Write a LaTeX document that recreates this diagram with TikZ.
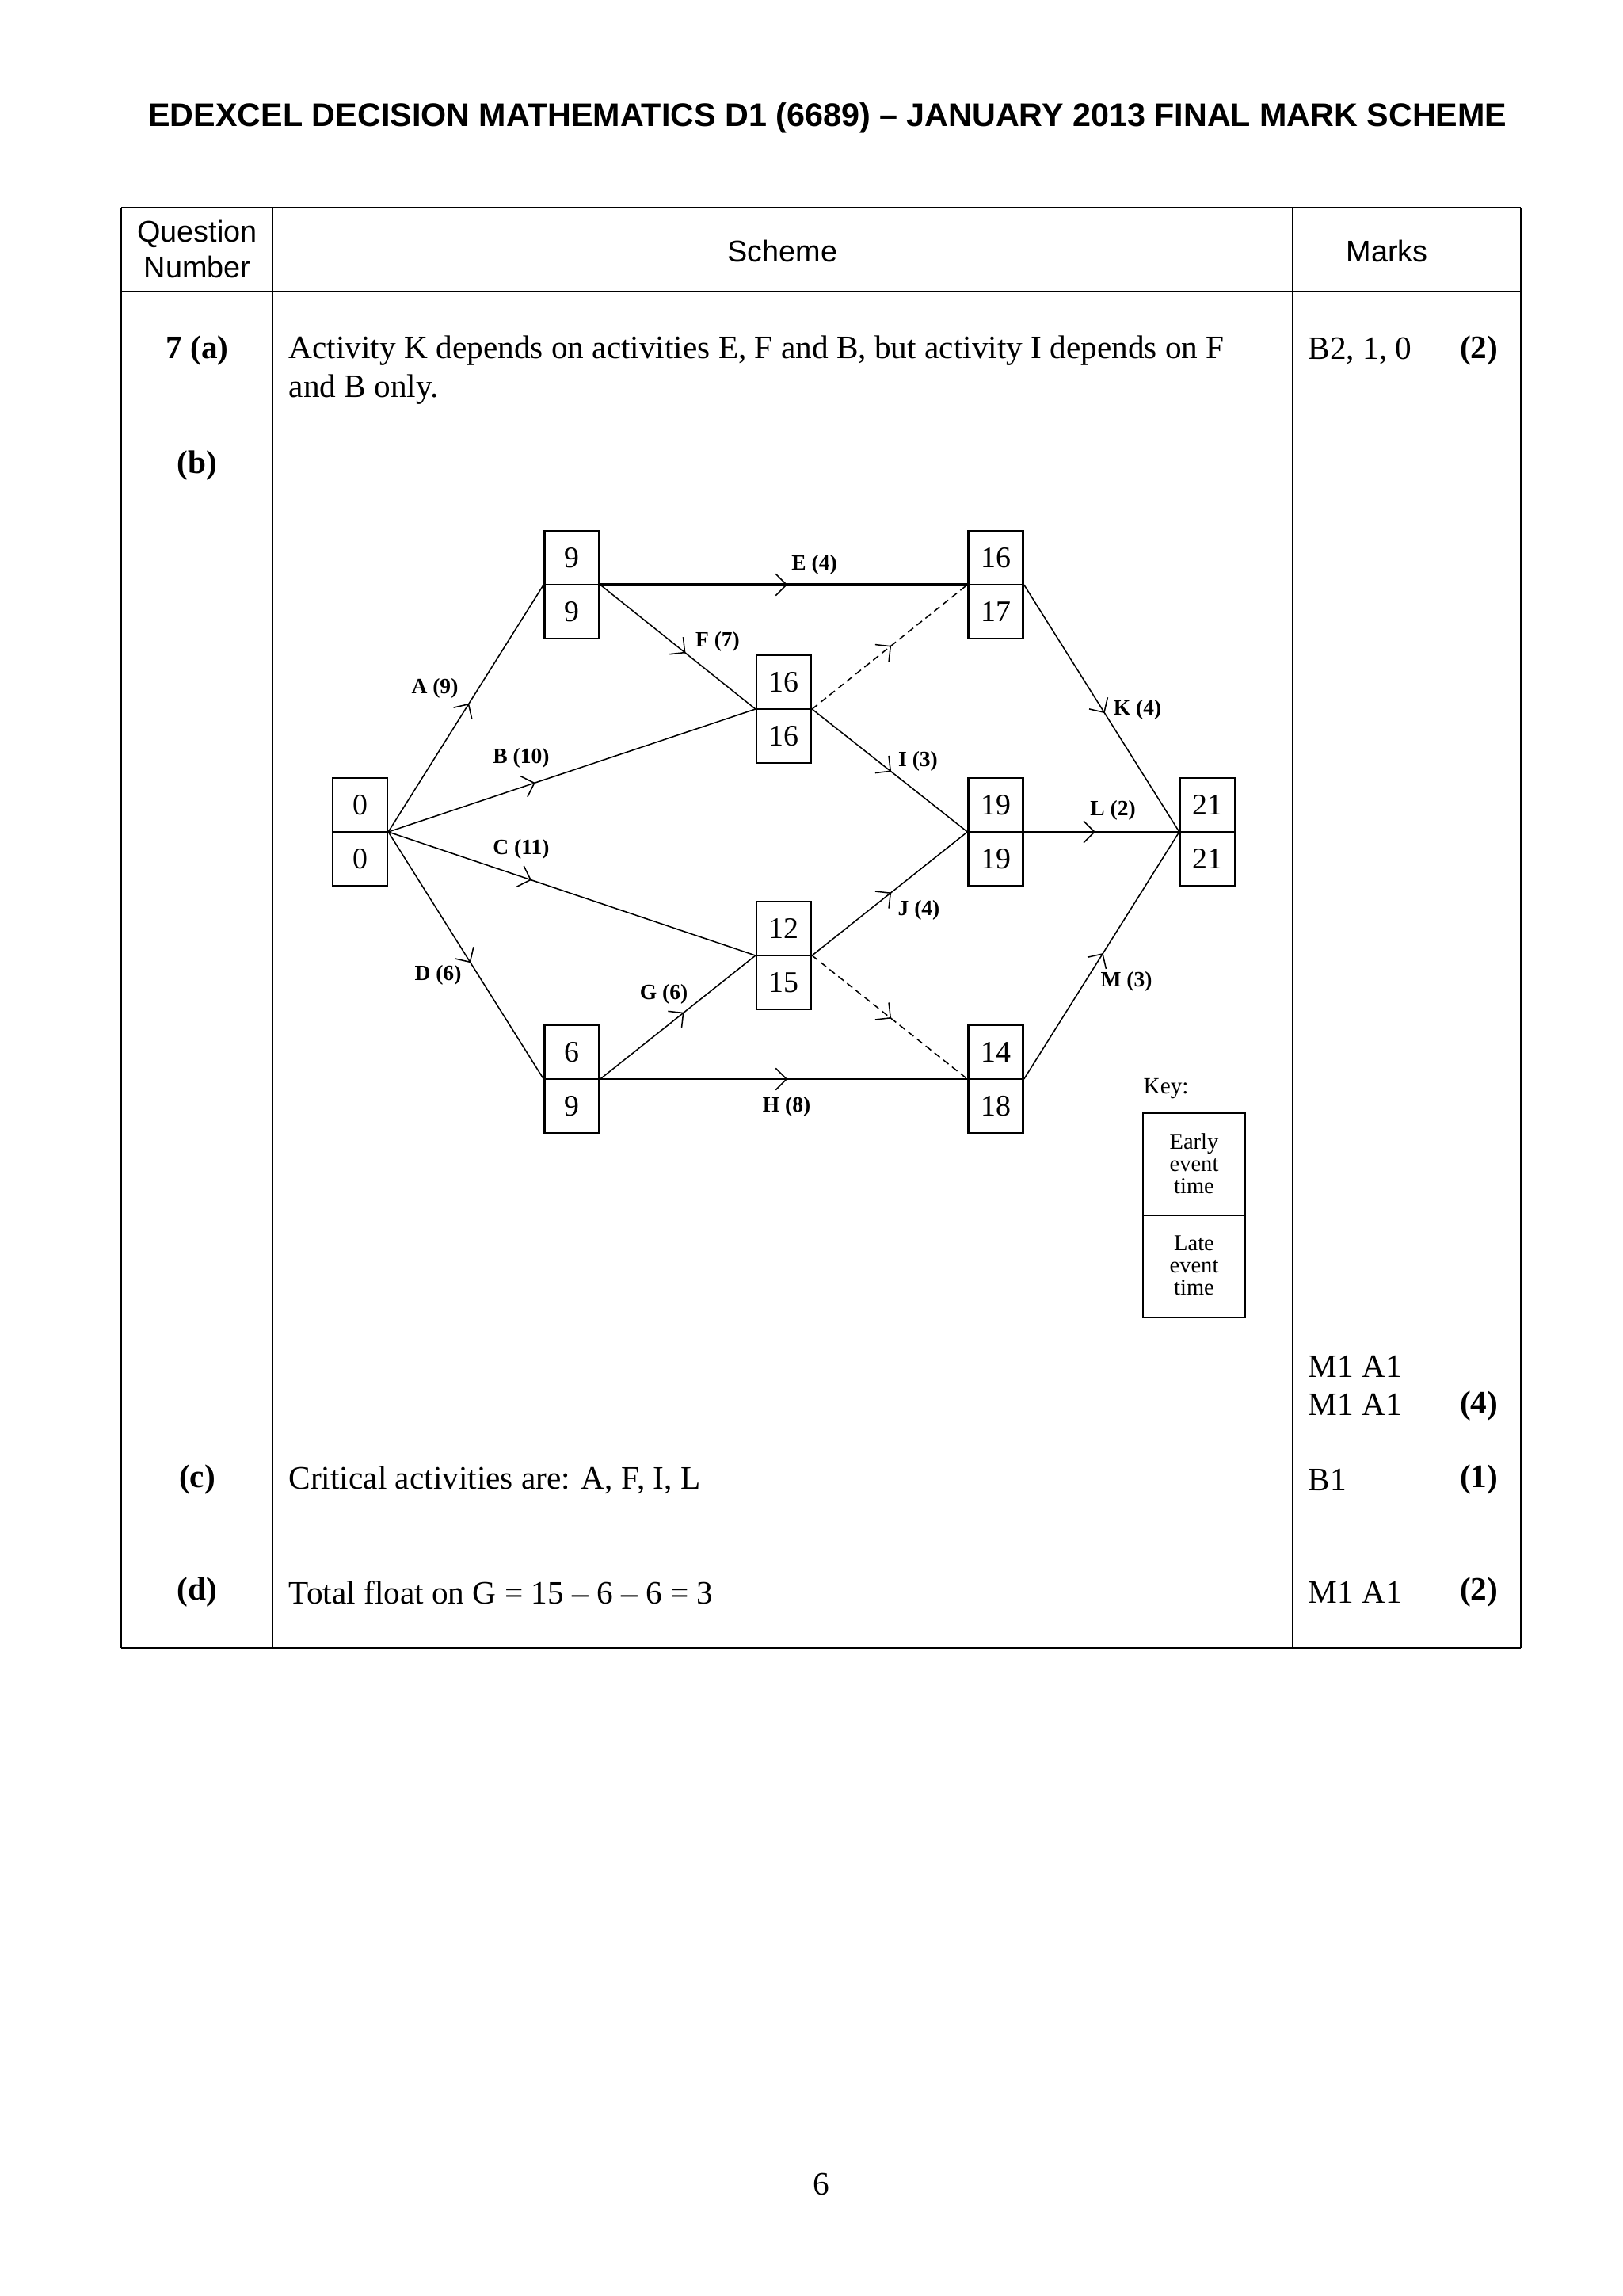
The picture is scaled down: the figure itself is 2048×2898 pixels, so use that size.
\documentclass[tikz,border=0pt]{standalone}
\usepackage{fontspec}
\setmainfont{Liberation Serif}
\setsansfont{Liberation Sans}
\usetikzlibrary{arrows.meta,decorations.markings}
\newcommand{\eventbox}[5]{%
  \node[evbox] (#1) at (#2,#3) {};
  \draw[boxline] (#1.west) -- (#1.east);
  \node[evnum] (#1t) at (#2,#3-34) {#4};
  \node[evnum] (#1b) at (#2,#3+34) {#5};
}
\begin{document}
\begin{tikzpicture}[x=0.290663pt,y=-0.290663pt,
  vline/.style={line width=0.5pt},
  hline/.style={line width=0.8pt},
  txt/.style={inner sep=0pt,font=\fontsize{12}{14}\selectfont},
  btxt/.style={inner sep=0pt,font=\fontsize{12}{14}\selectfont\bfseries},
  htxt/.style={inner sep=0pt,font=\sffamily\fontsize{11}{13}\selectfont},
  evbox/.style={draw,line width=0.7pt,minimum width=20.05pt,minimum height=39.5pt,inner sep=0pt},
  boxline/.style={line width=0.7pt},
  evnum/.style={inner sep=0pt,font=\fontsize{11}{13}\selectfont},
  edge/.style={line width=0.45pt},
  lbl/.style={inner sep=0pt,font=\fontsize{8}{9.6}\selectfont\bfseries},
  keytxt/.style={inner sep=0pt,align=center,font=\fontsize{8.3}{8.15}\selectfont},
  arr/.style={postaction={decorate},decoration={markings,mark=at position #1 with {\arrow{Straight Barb[length=4pt,width=8pt,line width=0.45pt]}}}}
]
\useasboundingbox (0,0) rectangle (2048,2898);
\fill[white] (0,0) rectangle (2048,2898);

% title
\node[inner sep=0pt,font=\sffamily\bfseries\fontsize{12}{14}\selectfont] (title) at (1045,149)
  {EDEXCEL DECISION MATHEMATICS D1 (6689) – JANUARY 2013 FINAL MARK SCHEME};

% table frame
\draw[hline] (153,262) -- (1920,262);
\draw[hline] (153,368) -- (1920,368);
\draw[hline] (153,2080) -- (1920,2080);
\draw[vline] (153,262) -- (153,2080);
\draw[vline] (344,262) -- (344,2080);
\draw[vline] (1632,262) -- (1632,2080);
\draw[vline] (1920,262) -- (1920,2080);

% header
\node[htxt] (hq1) at (249,295) {Question};
\node[htxt] (hq2) at (249,337) {Number};
\node[htxt] (hs) at (988,317) {Scheme};
\node[htxt] (hm) at (1751,317) {Marks};

% rows
\node[btxt] (q7a) at (249,443) {7 (a)};
\node[txt,anchor=west] (ta1) at (364,443) {Activity K depends on activities E, F and B, but activity I depends on F};
\node[txt,anchor=west] (ta2) at (364,492) {and B only.};
\node[txt,anchor=west] (ma) at (1651,443) {B2, 1, 0};
\node[btxt,anchor=east] (pa) at (1892,443) {(2)};

\node[btxt] (qb) at (249,588) {(b)};
\node[txt,anchor=west] (mb1) at (1651,1725) {M1 A1};
\node[txt,anchor=west] (mb2) at (1651,1773) {M1 A1};
\node[btxt,anchor=east] (pb) at (1892,1775) {(4)};

\node[btxt] (qc) at (249,1868) {(c)};
\node[txt,anchor=west] (tc) at (364,1868) {Critical activities are: A, F, I, L};
\node[txt,anchor=west] (mc) at (1651,1868) {B1};
\node[btxt,anchor=east] (pc) at (1892,1868) {(1)};

\node[btxt] (qd) at (249,2010) {(d)};
\node[txt,anchor=west] (td) at (364,2010) {Total float on G = 15 – 6 – 6 = 3};
\node[txt,anchor=west] (md) at (1651,2010) {M1 A1};
\node[btxt,anchor=east] (pd) at (1892,2010) {(2)};

% page number
\node[txt] (pg) at (1037,2757) {6};

% activity network
\eventbox{nA}{454.5}{1050}{0}{0}
\eventbox{nB}{722}{738}{9}{9}
\eventbox{nC}{989.5}{895}{16}{16}
\eventbox{nD}{1257}{738}{16}{17}
\eventbox{nE}{1257}{1050}{19}{19}
\eventbox{nF}{1524.5}{1050}{21}{21}
\eventbox{nG}{989.5}{1206}{12}{15}
\eventbox{nH}{722}{1362}{6}{9}
\eventbox{nI}{1257}{1362}{14}{18}

\draw[edge,arr=0.52] (nA.east) -- (nB.west);
\draw[edge,arr=0.40] (nA.east) -- (nC.west);
\draw[edge,arr=0.39] (nA.east) -- (nG.west);
\draw[edge,arr=0.53] (nA.east) -- (nH.west);
\draw[line width=1.1pt,arr=0.51] (nB.east) -- (nD.west);
\draw[edge,arr=0.55] (nB.east) -- (nC.west);
\draw[edge,dashed,dash pattern=on 2.5pt off 1.6pt,arr=0.51] (nC.east) -- (nD.west);
\draw[edge,arr=0.51] (nC.east) -- (nE.west);
\draw[edge,arr=0.51] (nG.east) -- (nE.west);
\draw[edge,dashed,dash pattern=on 2.5pt off 1.6pt,arr=0.51] (nG.east) -- (nI.west);
\draw[edge,arr=0.54] (nH.east) -- (nG.west);
\draw[edge,arr=0.51] (nH.east) -- (nI.west);
\draw[edge,arr=0.52] (nD.east) -- (nF.west);
\draw[edge,arr=0.46] (nE.east) -- (nF.west);
\draw[edge,arr=0.51] (nI.east) -- (nF.west);

% activity labels
\node[lbl] (lA) at (549,869) {A (9)};
\node[lbl] (lB) at (658,957) {B (10)};
\node[lbl] (lC) at (658,1072) {C (11)};
\node[lbl] (lD) at (553,1231) {D (6)};
\node[lbl] (lE) at (1028,713) {E (4)};
\node[lbl] (lF) at (906,810) {F (7)};
\node[lbl] (lI) at (1159,961) {I (3)};
\node[lbl] (lK) at (1436,896) {K (4)};
\node[lbl] (lL) at (1405,1023) {L (2)};
\node[lbl] (lJ) at (1160,1149) {J (4)};
\node[lbl] (lM) at (1422,1239) {M (3)};
\node[lbl] (lG) at (838,1255) {G (6)};
\node[lbl] (lH) at (993,1397) {H (8)};

% key
\node[inner sep=0pt,anchor=west,font=\fontsize{8.5}{10}\selectfont] (keyl) at (1443,1374) {Key:};
\node[draw,line width=0.7pt,minimum width=37.5pt,minimum height=75pt,inner sep=0pt] (keyb) at (1507.5,1534) {};
\draw[boxline] (keyb.west) -- (keyb.east);
\node[keytxt] (key1) at (1507.5,1469) {Early\\event\\time};
\node[keytxt] (key2) at (1507.5,1597) {Late\\event\\time};
\end{tikzpicture}
\end{document}
